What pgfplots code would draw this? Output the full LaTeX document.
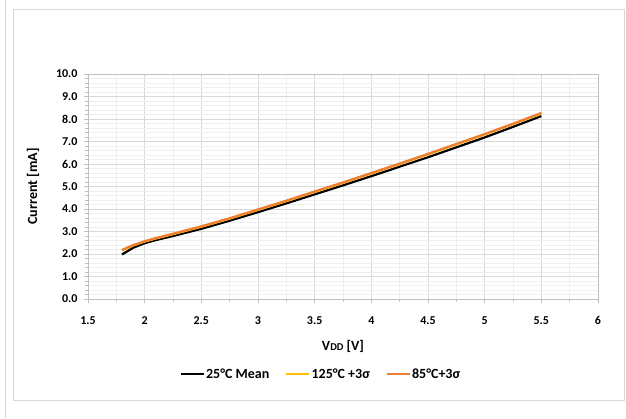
\documentclass[border=0pt]{standalone}
\usepackage{pgfplots}
\pgfplotsset{compat=1.18}
\usepackage{fontspec}
\setmainfont{Carlito}
\definecolor{cyel}{HTML}{FFC000}
\definecolor{corg}{HTML}{ED7D31}
\definecolor{gmaj}{HTML}{D9D9D9}
\definecolor{gmin}{HTML}{EFEFEF}
\definecolor{gax}{HTML}{BFBFBF}
\begin{document}
\begin{tikzpicture}
\path[use as bounding box,fill=white] (0pt,0pt) rectangle (626pt,418pt);
\draw[gmaj,line width=0.8pt] (5pt,0pt) -- (5pt,418pt);
\draw[gmaj,line width=0.8pt] (13pt,18pt) rectangle (624.5pt,408.5pt);
\begin{axis}[
  at={(88pt,119pt)}, anchor=south west,
  scale only axis, width=510pt, height=225pt,
  xmin=1.5, xmax=6, ymin=0, ymax=10,
  xtick={1.5,2,...,6}, xticklabels={1.5,2,2.5,3,3.5,4,4.5,5,5.5,6},
  ytick={0,1,...,10},
  yticklabels={0.0,1.0,2.0,3.0,4.0,5.0,6.0,7.0,8.0,9.0,10.0},
  minor x tick num=1, minor y tick num=4,
  ticklabel style={font=\fontsize{12}{14}\selectfont\bfseries},
  xticklabel style={yshift=-10pt},
  yticklabel style={xshift=-3pt},
  grid=both,
  major grid style={gmaj,line width=0.6pt},
  minor grid style={gmin,line width=0.5pt},
  axis line style={gax,line width=0.8pt},
  tick style={gax,line width=0.6pt},
  tick align=outside,
  major tick length=4pt, minor tick length=3pt,
  xtick pos=bottom, ytick pos=left,
  xlabel={V\fontsize{10.5}{12}\selectfont DD\fontsize{14}{16}\selectfont{} [V]},
  ylabel={Current [mA]},
  label style={font=\fontsize{14}{16}\selectfont\bfseries},
  xlabel style={at={(axis description cs:0.5,0)},yshift=-47pt,anchor=center},
  ylabel style={at={(axis description cs:0,0.5)},yshift=55pt,anchor=center},
  legend style={at={(0.456,-0.333)},anchor=center,draw=none,fill=none,
    legend columns=3,font=\fontsize{14}{16}\selectfont\bfseries,
    nodes={inner xsep=1.5pt},
    /tikz/every even column/.append style={column sep=14pt}},
  legend cell align=left,
  legend image code/.code={\draw[#1,line width=2.2pt] (0pt,0pt) -- (23pt,0pt);},
]
\addplot[black,line width=2.2pt] coordinates {
(1.8,1.98) (1.9,2.28) (2.0,2.48) (2.1,2.62) (2.25,2.80) (2.5,3.12) (2.75,3.48)
(3.0,3.86) (3.25,4.25) (3.5,4.65) (3.75,5.05) (4.0,5.46) (4.25,5.88) (4.5,6.30)
(4.75,6.74) (5.0,7.18) (5.25,7.65) (5.5,8.13)};
\addlegendentry{25°C Mean}
\addplot[cyel,line width=2.2pt] coordinates {
(1.8,2.16) (1.9,2.38) (2.0,2.55) (2.1,2.69) (2.25,2.88) (2.5,3.21) (2.75,3.57)
(3.0,3.96) (3.25,4.35) (3.5,4.76) (3.75,5.16) (4.0,5.58) (4.25,6.00) (4.5,6.43)
(4.75,6.87) (5.0,7.31) (5.25,7.77) (5.5,8.25)};
\addlegendentry{125°C +3σ}
\addplot[corg,line width=2.2pt] coordinates {
(1.8,2.18) (1.9,2.40) (2.0,2.57) (2.1,2.71) (2.25,2.90) (2.5,3.23) (2.75,3.59)
(3.0,3.98) (3.25,4.37) (3.5,4.78) (3.75,5.18) (4.0,5.60) (4.25,6.02) (4.5,6.45)
(4.75,6.89) (5.0,7.33) (5.25,7.79) (5.5,8.27)};
\addlegendentry{85°C+3σ}
\end{axis}
\end{tikzpicture}
\end{document}
